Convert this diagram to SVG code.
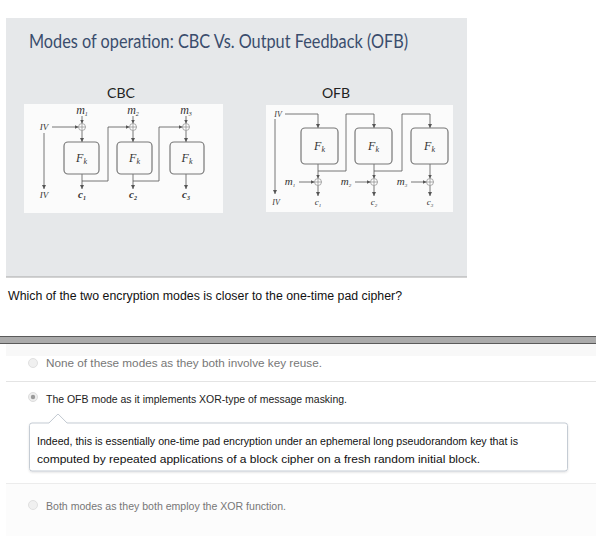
<svg xmlns="http://www.w3.org/2000/svg" width="596" height="536" viewBox="0 0 596 536">
<defs>
<style>
.title{font-family:Lato,"Open Sans","Liberation Sans",sans-serif;font-size:19.5px;fill:#3a4d6d}
.lbl{font-family:Lato,"Open Sans","Liberation Sans",sans-serif;font-size:14px;fill:#222}
.math{font-family:"Liberation Serif","DejaVu Serif",serif;font-style:italic;fill:#333}
.ln{stroke:#555;stroke-width:0.8;fill:none}
.box{fill:#fafafa;stroke:#777;stroke-width:1.2}
.xor{fill:#fff;stroke:#888;stroke-width:0.7}
.q{font-family:"Liberation Sans",Arial,sans-serif;font-size:12px;fill:#111}
.opt{font-family:"Liberation Sans",Arial,sans-serif;font-size:11px}
</style>
<marker id="ah" viewBox="0 0 6 6" refX="6" refY="3" markerWidth="4" markerHeight="4" orient="auto" markerUnits="userSpaceOnUse">
<path d="M0,0 L6,3 L0,6 z" fill="#555"/>
</marker>
<filter id="sh" x="-5%" y="-20%" width="110%" height="150%">
<feDropShadow dx="0" dy="1" stdDeviation="1" flood-color="#000" flood-opacity="0.12"/>
</filter>
</defs>
<rect width="596" height="536" fill="#fff"/>
<g id="slide">
<rect x="6" y="18" width="461" height="259" fill="#e6e8ea"/>
<line x1="6" y1="277" x2="467" y2="277" stroke="#a8a8a8" stroke-width="1"/>
<text class="title" x="29" y="48" textLength="379" lengthAdjust="spacingAndGlyphs">Modes of operation: CBC Vs. Output Feedback (OFB)</text>
<text class="lbl" x="121" y="98" text-anchor="middle">CBC</text>
<text class="lbl" x="336" y="98" text-anchor="middle">OFB</text>
<rect x="24" y="104" width="199" height="109" fill="#fbfbfb"/>
<rect x="266" y="105" width="187" height="107" fill="#fbfbfb"/>
</g>
<g id="cbc-connectors">
<line class="ln" x1="52" y1="127" x2="78.5" y2="127" marker-end="url(#ah)"/>
<line class="ln" x1="44" y1="133" x2="44" y2="189" marker-end="url(#ah)"/>
<line class="ln" x1="82" y1="116" x2="82" y2="123.5" marker-end="url(#ah)"/>
<line class="ln" x1="133" y1="116" x2="133" y2="123.5" marker-end="url(#ah)"/>
<line class="ln" x1="186" y1="116" x2="186" y2="123.5" marker-end="url(#ah)"/>
<line class="ln" x1="82" y1="130.5" x2="82" y2="142" marker-end="url(#ah)"/>
<line class="ln" x1="133" y1="130.5" x2="133" y2="142" marker-end="url(#ah)"/>
<line class="ln" x1="186" y1="130.5" x2="186" y2="142" marker-end="url(#ah)"/>
<line class="ln" x1="82" y1="174" x2="82" y2="189" marker-end="url(#ah)"/>
<line class="ln" x1="133" y1="174" x2="133" y2="189" marker-end="url(#ah)"/>
<line class="ln" x1="186" y1="174" x2="186" y2="189" marker-end="url(#ah)"/>
<polyline class="ln" points="82,181 108,181 108,127 129.5,127" marker-end="url(#ah)"/>
<polyline class="ln" points="133,181 159,181 159,127 182.5,127" marker-end="url(#ah)"/>
</g>
<g id="cbc-iv"><text class="math" x="44" y="130" font-size="9" text-anchor="middle">IV</text><text class="math" x="44" y="198" font-size="9" text-anchor="middle">IV</text></g>
<g id="cbc-m1"><text class="math" x="82" y="114" font-size="12" text-anchor="middle">m<tspan font-size="6" dy="2">1</tspan></text></g>
<g id="cbc-m2"><text class="math" x="133" y="114" font-size="12" text-anchor="middle">m<tspan font-size="6" dy="2">2</tspan></text></g>
<g id="cbc-m3"><text class="math" x="186" y="114" font-size="12" text-anchor="middle">m<tspan font-size="6" dy="2">3</tspan></text></g>
<g id="cbc-x1"><circle class="xor" cx="82" cy="127" r="3.5"/><path class="xor" d="M78.5,127 H85.5 M82,123.5 V130.5"/></g>
<g id="cbc-x2"><circle class="xor" cx="133" cy="127" r="3.5"/><path class="xor" d="M129.5,127 H136.5 M133,123.5 V130.5"/></g>
<g id="cbc-x3"><circle class="xor" cx="186" cy="127" r="3.5"/><path class="xor" d="M182.5,127 H189.5 M186,123.5 V130.5"/></g>
<g id="cbc-f1"><rect class="box" x="64" y="142" width="35" height="32" rx="4"/><text class="math" x="81.5" y="162" font-size="12" text-anchor="middle">F<tspan font-size="8" dy="2">k</tspan></text></g>
<g id="cbc-f2"><rect class="box" x="117" y="142" width="35" height="32" rx="4"/><text class="math" x="134.5" y="162" font-size="12" text-anchor="middle">F<tspan font-size="8" dy="2">k</tspan></text></g>
<g id="cbc-f3"><rect class="box" x="170" y="142" width="34" height="32" rx="4"/><text class="math" x="187" y="162" font-size="12" text-anchor="middle">F<tspan font-size="8" dy="2">k</tspan></text></g>
<g id="cbc-c1"><text class="math" x="82" y="198" font-size="11" font-weight="bold" text-anchor="middle">c<tspan font-size="6" dy="2">1</tspan></text></g>
<g id="cbc-c2"><text class="math" x="133" y="198" font-size="11" font-weight="bold" text-anchor="middle">c<tspan font-size="6" dy="2">2</tspan></text></g>
<g id="cbc-c3"><text class="math" x="186" y="198" font-size="11" font-weight="bold" text-anchor="middle">c<tspan font-size="6" dy="2">3</tspan></text></g>
<g id="ofb-connectors">
<polyline class="ln" points="285,114 318,114 318,128" marker-end="url(#ah)"/>
<line class="ln" x1="275" y1="119" x2="275" y2="194" marker-end="url(#ah)"/>
<line class="ln" x1="318" y1="164" x2="318" y2="178.5" marker-end="url(#ah)"/>
<line class="ln" x1="374" y1="164" x2="374" y2="178.5" marker-end="url(#ah)"/>
<line class="ln" x1="430" y1="164" x2="430" y2="178.5" marker-end="url(#ah)"/>
<polyline class="ln" points="318,171 346,171 346,114 374,114 374,128" marker-end="url(#ah)"/>
<polyline class="ln" points="374,171 402,171 402,114 430,114 430,128" marker-end="url(#ah)"/>
<line class="ln" x1="299" y1="182" x2="314.5" y2="182" marker-end="url(#ah)"/>
<line class="ln" x1="355" y1="182" x2="370.5" y2="182" marker-end="url(#ah)"/>
<line class="ln" x1="411" y1="182" x2="426.5" y2="182" marker-end="url(#ah)"/>
<line class="ln" x1="318" y1="185.5" x2="318" y2="196" marker-end="url(#ah)"/>
<line class="ln" x1="374" y1="185.5" x2="374" y2="196" marker-end="url(#ah)"/>
<line class="ln" x1="430" y1="185.5" x2="430" y2="196" marker-end="url(#ah)"/>
</g>
<g id="ofb-iv"><text class="math" x="278" y="117" font-size="8" text-anchor="middle">IV</text><text class="math" x="276" y="205" font-size="8" text-anchor="middle">IV</text></g>
<g id="ofb-f1"><rect class="box" x="301" y="128" width="37" height="36" rx="4"/><text class="math" x="319.5" y="150" font-size="12" text-anchor="middle">F<tspan font-size="8" dy="2">k</tspan></text></g>
<g id="ofb-f2"><rect class="box" x="355" y="128" width="37" height="36" rx="4"/><text class="math" x="373.5" y="150" font-size="12" text-anchor="middle">F<tspan font-size="8" dy="2">k</tspan></text></g>
<g id="ofb-f3"><rect class="box" x="411" y="128" width="37" height="36" rx="4"/><text class="math" x="429.5" y="150" font-size="12" text-anchor="middle">F<tspan font-size="8" dy="2">k</tspan></text></g>
<g id="ofb-x1"><circle class="xor" cx="318" cy="182" r="3.5"/><path class="xor" d="M314.5,182 H321.5 M318,178.5 V185.5"/></g>
<g id="ofb-x2"><circle class="xor" cx="374" cy="182" r="3.5"/><path class="xor" d="M370.5,182 H377.5 M374,178.5 V185.5"/></g>
<g id="ofb-x3"><circle class="xor" cx="430" cy="182" r="3.5"/><path class="xor" d="M426.5,182 H433.5 M430,178.5 V185.5"/></g>
<g id="ofb-m1"><text class="math" x="290" y="185" font-size="11" text-anchor="middle">m<tspan font-size="5" dy="2">1</tspan></text></g>
<g id="ofb-m2"><text class="math" x="346" y="185" font-size="11" text-anchor="middle">m<tspan font-size="5" dy="2">2</tspan></text></g>
<g id="ofb-m3"><text class="math" x="402" y="185" font-size="11" text-anchor="middle">m<tspan font-size="5" dy="2">3</tspan></text></g>
<g id="ofb-c1"><text class="math" x="318" y="205" font-size="9" text-anchor="middle">c<tspan font-size="5" dy="2">1</tspan></text></g>
<g id="ofb-c2"><text class="math" x="374" y="205" font-size="9" text-anchor="middle">c<tspan font-size="5" dy="2">2</tspan></text></g>
<g id="ofb-c3"><text class="math" x="430" y="205" font-size="9" text-anchor="middle">c<tspan font-size="5" dy="2">3</tspan></text></g>
<g id="question">
<text class="q" x="8" y="300" textLength="394" lengthAdjust="spacingAndGlyphs">Which of the two encryption modes is closer to the one-time pad cipher?</text>
</g>
<g id="bar">
<rect x="0" y="336" width="596" height="8" fill="#ababab"/>
<line x1="0" y1="336.5" x2="596" y2="336.5" stroke="#5a5a5a" stroke-width="1"/>
<line x1="0" y1="343.5" x2="596" y2="343.5" stroke="#5a5a5a" stroke-width="1"/>
</g>
<g id="option1">
<rect x="6" y="344" width="590" height="12" fill="#f8f8f8"/>
<circle cx="33" cy="363" r="4.5" fill="#f0f0f0" stroke="#e0e0e0"/>
<text class="opt" x="46" y="367" fill="#777" textLength="276" lengthAdjust="spacingAndGlyphs">None of these modes as they both involve key reuse.</text>
</g>
<line x1="6" y1="381.5" x2="596" y2="381.5" stroke="#e4e4e4"/>
<g id="option2">
<circle cx="33" cy="397" r="4.5" fill="#eeeeee" stroke="#dddddd"/>
<circle cx="33" cy="397" r="2.2" fill="#9a9a9a"/>
<text class="opt" x="46" y="403" fill="#222" textLength="301" lengthAdjust="spacingAndGlyphs">The OFB mode as it implements XOR-type of message masking.</text>
</g>
<g id="feedback">
<path d="M32,423 H49 L58,414 L67,423 H565 Q567.5,423 567.5,425.5 V468.5 Q567.5,471 565,471 H32 Q29.5,471 29.5,468.5 V425.5 Q29.5,423 32,423 Z" fill="#fff" stroke="#c5ccd4" stroke-width="1" filter="url(#sh)"/>
<text class="opt" x="37" y="445" fill="#111" textLength="481" lengthAdjust="spacingAndGlyphs">Indeed, this is essentially one-time pad encryption under an ephemeral long pseudorandom key that is</text>
<text class="opt" x="37" y="463" fill="#111" textLength="443" lengthAdjust="spacingAndGlyphs">computed by repeated applications of a block cipher on a fresh random initial block.</text>
</g>
<line x1="6" y1="483.5" x2="596" y2="483.5" stroke="#ececec"/>
<g id="option3">
<rect x="6" y="484" width="590" height="52" fill="#fcfcfc"/>
<circle cx="33" cy="505" r="4.5" fill="#f0f0f0" stroke="#e0e0e0"/>
<text class="opt" x="46" y="510" fill="#777" textLength="240" lengthAdjust="spacingAndGlyphs">Both modes as they both employ the XOR function.</text>
</g>
</svg>
